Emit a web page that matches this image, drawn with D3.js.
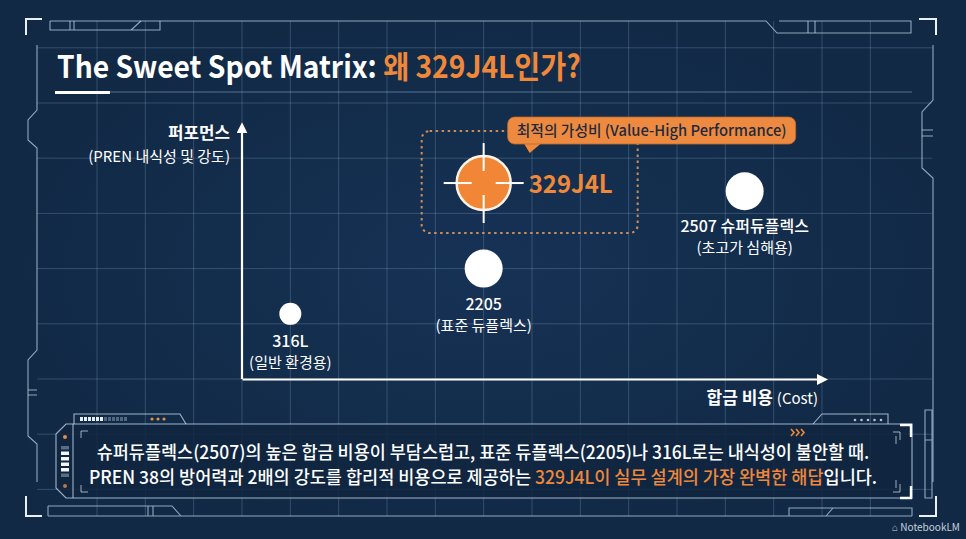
<!DOCTYPE html>
<html><head><meta charset="utf-8">
<script src="https://cdn.jsdelivr.net/npm/d3@7"></script>
<style>
html,body{margin:0;padding:0;background:#142e4d;overflow:hidden}
svg{display:block}
text{font-family:"Noto Sans CJK KR","Noto Sans",sans-serif}
</style></head>
<body>
<svg id="c" width="966" height="539"></svg>
<script>
// ---- data ----
const grades = ["316L", "2205", "329J4L", "2507"];
const costValues = [1.0, 5.0, 5.0, 10.4];          // relative alloy cost
const perfValues = [1.18, 2.0, 3.55, 3.4];          // relative performance (PREN & strength)
const nameLabels = ["316L", "2205", "329J4L", "2507 슈퍼듀플렉스"];
const subLabels = ["(일반 환경용)", "(표준 듀플렉스)", "", "(초고가 심해용)"];
const titleWhite = "The Sweet Spot Matrix: ";
const titleOrange = "왜 329J4L인가?";
const yAxisTitle = "퍼포먼스";
const yAxisSub = "(PREN 내식성 및 강도)";
const xAxisTitle = "합금 비용";
const xAxisSub = "(Cost)";
const bubbleText = "최적의 가성비 (Value-High Performance)";
const captionLine1 = "슈퍼듀플렉스(2507)의 높은 합금 비용이 부담스럽고, 표준 듀플렉스(2205)나 316L로는 내식성이 불안할 때.";
const captionLine2a = "PREN 38의 방어력과 2배의 강도를 합리적 비용으로 제공하는 ";
const captionLine2b = "329J4L이 실무 설계의 가장 완벽한 해답";
const captionLine2c = "입니다.";
const gridX = d3.range(-3, 14);
const gridY = d3.range(-2, 7);

// ---- styles ----
const ORANGE = "#f0883a";
const markRadius = {"316L": 11, "2205": 19, "329J4L": 27, "2507": 19};
const highlight = "329J4L";

const svg = d3.select("#c");
const W = 966, H = 539;

const x = d3.scaleLinear().domain([0, 12]).range([242, 822]);
const y = d3.scaleLinear().domain([0, 5]).range([379, 103]);

// background
svg.append("rect").attr("width", W).attr("height", H).attr("fill", "#142e4d");
const grad = svg.append("defs").append("radialGradient").attr("id", "vig");
grad.append("stop").attr("offset", "0%").attr("stop-color", "#17345a").attr("stop-opacity", 0.6);
grad.append("stop").attr("offset", "100%").attr("stop-color", "#0f2640").attr("stop-opacity", 0.6);
svg.append("rect").attr("width", W).attr("height", H).attr("fill", "url(#vig)");

// grid
const grid = svg.append("g").attr("stroke", "rgba(150,185,220,0.26)").attr("stroke-width", 1);
grid.selectAll("line.v").data(gridX).join("line")
  .attr("x1", d => x(d)).attr("x2", d => x(d)).attr("y1", 21).attr("y2", 516);
grid.selectAll("line.h").data(gridY).join("line")
  .attr("y1", d => y(d)).attr("y2", d => y(d)).attr("x1", 37).attr("x2", 932);
// title line
svg.append("line").attr("x1", 110).attr("x2", 912).attr("y1", 92).attr("y2", 92)
  .attr("stroke", "rgba(170,200,230,0.45)").attr("stroke-width", 1);

// frame decorations
const fr = svg.append("g").attr("fill", "none").attr("stroke", "rgba(200,222,242,0.7)").attr("stroke-width", 1.1);
fr.append("path").attr("d", "M50,21 H766 L777,33 H911 V21 H779");
fr.append("path").attr("d", "M50,21 V30 H160 V21 M70,21 V30 M74,21 V30 M131,30 L141,21 M808,21 V33 M815,21 V33");
fr.append("path").attr("d", "M37,45 V110 L28,120 V140 L37,148 V350 L28,360 V436 L37,444 V482");
fr.append("path").attr("d", "M28,390 H37 M28,395 H37");
fr.append("path").attr("d", "M933,45 V100 L922,112 V168 L933,178 V482");
fr.append("path").attr("d", "M922,130 H933 M922,136 H933");
fr.append("path").attr("d", "M925,410 H932 V498 H925 Z M925,440 H932");
// bottom strips
fr.append("path").attr("d", "M48,516 H912 M48,506 H172 L181,516 M48,506 V516 M148,506 V516 M153,506 V516 M789,516 V508 H912 V516 M833,508 L826,516");
// corner brackets
const br = svg.append("g").attr("fill", "none").attr("stroke", "#e9f0f7").attr("stroke-width", 2);
br.append("path").attr("d", "M26,35 V19 H42");
br.append("path").attr("d", "M919,19 H936 V35");
br.append("path").attr("d", "M26,496 V516 H42");
br.append("path").attr("d", "M919,516 H936 V496");

function scaleFit(sel, tx, ty, target, anchor) {
  const w = sel.node().getComputedTextLength();
  const k = Math.min(1, target / w);
  sel.attr("x", 0).attr("y", 0).attr("transform", `translate(${tx},${ty}) scale(${k},1)`);
}

// title
const title = svg.append("text").attr("font-size", 31).attr("font-weight", 700);
title.append("tspan").attr("fill", "#ffffff").text(titleWhite);
title.append("tspan").attr("fill", ORANGE).text(titleOrange);
{
  const w = title.node().getComputedTextLength();
  title.attr("transform", `translate(57,78) scale(${524 / w},1)`);
}
svg.append("rect").attr("x", 55).attr("y", 91).attr("width", 55).attr("height", 3).attr("fill", "#ffffff");

// axes
svg.append("defs").append("marker").attr("id", "arr").attr("viewBox", "0 0 10 10")
  .attr("refX", 5).attr("refY", 5).attr("markerWidth", 5).attr("markerHeight", 5)
  .attr("orient", "auto")
  .append("path").attr("d", "M0,0 L10,5 L0,10 Z").attr("fill", "#ffffff");

const xAxisG = svg.append("g").attr("transform", `translate(0,${y(0)})`)
  .call(d3.axisBottom(x).ticks(0).tickSizeOuter(0));
xAxisG.select(".domain").attr("stroke", "#ffffff").attr("stroke-width", 2.2).attr("marker-end", "url(#arr)");
const yTop = 4.55;
const yAxisG = svg.append("g").attr("transform", `translate(${x(0)},0)`)
  .call(d3.axisLeft(y).ticks(0).tickSizeOuter(0));
yAxisG.select(".domain").attr("stroke", "#ffffff").attr("stroke-width", 2.2)
  .attr("d", `M0,${y(0)} V${y(yTop)}`).attr("marker-end", "url(#arr)");

// axis labels
const yl1 = svg.append("text").attr("text-anchor", "end")
  .attr("font-size", 17).attr("font-weight", 700).attr("fill", "#fff").text(yAxisTitle);
scaleFit(yl1, 230, 139, 62);
const yl2 = svg.append("text").attr("text-anchor", "end")
  .attr("font-size", 15).attr("fill", "#fff").text(yAxisSub);
scaleFit(yl2, 230, 162, 142);
const xl = svg.append("text").attr("text-anchor", "end").attr("fill", "#fff");
xl.append("tspan").attr("font-size", 17).attr("font-weight", 700).text(xAxisTitle + " ");
xl.append("tspan").attr("font-size", 15).text(xAxisSub);
scaleFit(xl, 818, 404, 115);

// points
const pts = grades.map((g, i) => ({g, cx: x(costValues[i]), cy: y(perfValues[i]), r: markRadius[g], n: nameLabels[i], s: subLabels[i]}));
const hp = pts.find(p => p.g === highlight);

// dotted highlight box
svg.append("rect").attr("x", hp.cx - 62).attr("y", hp.cy - 52).attr("width", 216).attr("height", 102)
  .attr("rx", 8).attr("fill", "none").attr("stroke", "#c98d5a").attr("stroke-width", 2)
  .attr("stroke-dasharray", "2.5,3.5");

// speech bubble
const bx = hp.cx + 24, by = hp.cy - 66;
svg.append("path").attr("d", `M${bx + 16},${by + 26} L${bx + 22},${by + 36} L${bx + 34},${by + 26} Z`).attr("fill", "#ee8a40");
svg.append("rect").attr("x", bx).attr("y", by).attr("width", 288).attr("height", 27).attr("rx", 7)
  .attr("fill", "#ee8a40").attr("stroke", "#c06a2a").attr("stroke-width", 0.8);
const bt = svg.append("text").attr("text-anchor", "middle")
  .attr("font-size", 15).attr("font-weight", 500).attr("fill", "#1d2a3f").text(bubbleText);
scaleFit(bt, bx + 144, by + 19, 270);

// circles
const nodes = svg.append("g").selectAll("g").data(pts).join("g")
  .attr("transform", d => `translate(${d.cx},${d.cy})`);
nodes.append("circle").attr("r", d => d.r)
  .attr("fill", d => d.g === highlight ? "#f08636" : "#ffffff")
  .attr("stroke", d => d.g === highlight ? "#fff4e6" : "none")
  .attr("stroke-width", 2.5);

// crosshair
const ch = nodes.filter(d => d.g === highlight).append("g").attr("stroke", "#ffffff").attr("stroke-width", 2);
[[0, -1], [0, 1], [-1, 0], [1, 0]].forEach(([a, b]) => {
  ch.append("line").attr("x1", a * 12).attr("y1", b * 12).attr("x2", a * 40).attr("y2", b * 40);
});

// labels
nodes.filter(d => d.g !== highlight).append("text").attr("text-anchor", "middle")
  .attr("y", d => d.r + 22).attr("font-size", 16).attr("font-weight", 500).attr("fill", "#fff").text(d => d.n);
nodes.filter(d => d.g !== highlight).append("text").attr("text-anchor", "middle")
  .attr("y", d => d.r + 43).attr("font-size", 15).attr("fill", "#fff").text(d => d.s);
nodes.filter(d => d.g === highlight).append("text")
  .attr("font-size", 25).attr("font-weight", 700).attr("fill", ORANGE).text(d => d.n)
  .each(function () { scaleFit(d3.select(this), 45, 10, 84); });

// caption panel
const cp = svg.append("g").attr("fill", "none").attr("stroke", "rgba(205,225,245,0.75)").attr("stroke-width", 1.1);
cp.append("path").attr("d", "M66,424 H912 V498 H66 L56,488 V434 Z").attr("fill", "rgba(16,38,64,0.85)");
cp.append("path").attr("d", "M73,424 V498");
cp.append("path").attr("d", "M74,424 V414 H180 L186,424");
cp.append("path").attr("d", "M888,424 V414 H822 L813,424");
const bw = svg.append("g");
d3.range(6).forEach(i => bw.append("rect").attr("x", 80 + i * 4).attr("y", 417).attr("width", 3).attr("height", 4).attr("fill", "#e8f0f8"));
d3.range(6).forEach(i => bw.append("rect").attr("x", 104 + i * 4).attr("y", 417).attr("width", 3).attr("height", 4).attr("fill", "rgba(200,220,240,0.35)"));
d3.range(3).forEach(i => bw.append("circle").attr("cx", 152 + i * 6).attr("cy", 419).attr("r", 1.6).attr("fill", "#e0904a"));
d3.range(5).forEach(i => bw.append("circle").attr("cx", 855 + i * 6.5).attr("cy", 420).attr("r", 1.3).attr("fill", "rgba(220,232,245,0.8)"));
bw.append("circle").attr("cx", 65).attr("cy", 437).attr("r", 2).attr("fill", "#e0904a");
bw.append("circle").attr("cx", 65).attr("cy", 486).attr("r", 2).attr("fill", "#b07a4a");
d3.range(6).forEach(i => bw.append("rect").attr("x", 61).attr("y", 446 + i * 5.5).attr("width", 8).attr("height", 3.5)
  .attr("fill", i >= 1 && i <= 4 ? "#f2f6fa" : "rgba(200,220,240,0.4)"));
const ib = svg.append("g").attr("fill", "none").attr("stroke", "rgba(220,232,245,0.7)").attr("stroke-width", 1);
ib.append("path").attr("d", "M81,438 V431 H88 M81,485 V492 H88 M900,440 V432 H893 M900,484 V492 H893 M896,436 V444 M896,480 V488");
const cb = svg.append("g").attr("fill", "none").attr("stroke", "#ffffff").attr("stroke-width", 2.4);
cb.append("path").attr("d", "M900,425 H911 V437 M911,486 V498 H900");
// chevrons
const chev = svg.append("g").attr("fill", "none").attr("stroke", ORANGE).attr("stroke-width", 1.6);
d3.range(3).forEach(i => chev.append("path").attr("d", `M${791 + i * 5},429 l3,3.5 l-3,3.5`));

const c1 = svg.append("text").attr("text-anchor", "middle")
  .attr("font-size", 18).attr("font-weight", 500).attr("fill", "#ffffff").text(captionLine1);
scaleFit(c1, 483, 459, 773);
const c2 = svg.append("text").attr("text-anchor", "middle")
  .attr("font-size", 18).attr("font-weight", 500).attr("fill", "#ffffff");
c2.append("tspan").text(captionLine2a);
c2.append("tspan").attr("fill", ORANGE).text(captionLine2b);
c2.append("tspan").text(captionLine2c);
scaleFit(c2, 483, 484, 789);

// watermark
svg.append("text").attr("x", 960).attr("y", 531).attr("text-anchor", "end").attr("font-size", 10)
  .attr("fill", "#c8d2de").text("⌂ NotebookLM");
</script>
</body></html>
